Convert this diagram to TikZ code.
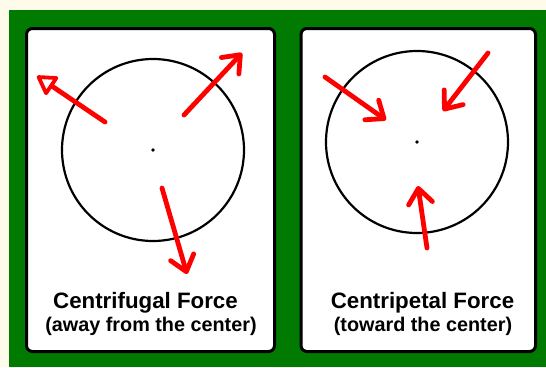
\documentclass[tikz,border=0pt]{standalone}
\usepackage{fontspec}
\setmainfont{Liberation Sans}
\usetikzlibrary{positioning,arrows.meta}
\definecolor{bggreen}{RGB}{0,122,0}
\definecolor{cream}{RGB}{255,251,235}
\definecolor{forcered}{RGB}{255,0,0}

\begin{document}
\begin{tikzpicture}[x=1pt, y=-1pt,
  panel/.style={rectangle, draw=black, line width=3pt, fill=white, rounded corners=6pt,
                inner sep=0pt, minimum height=323pt},
  wheel/.style={circle, draw=black, line width=2.2pt, inner sep=0pt, minimum size=182pt},
  hub/.style={circle, fill=black, inner sep=0pt, minimum size=3.6pt},
  title/.style={anchor=base, font=\bfseries\fontsize{22.3}{26}\selectfont},
  subtitle/.style={anchor=base, font=\bfseries\fontsize{19.8}{23}\selectfont},
  force/.style={draw=forcered, line width=4.8pt, line cap=round,
                -{Straight Barb[round, length=15pt, width=24pt]}},
  openforce/.style={draw=forcered, line width=4.8pt, line cap=round,
                -{Triangle[open, round, length=21pt, width=24pt, line width=3.8pt]}}
]
\useasboundingbox (0,0) rectangle (546,367);
\fill[cream] (0,0) rectangle (546,367);
\fill[bggreen] (8.7,10) rectangle (546,367);

\node[panel, minimum width=248pt] (fugalpanel) at (150.5,190) {};
\node[panel, minimum width=234.5pt] (petalpanel) at (418.25,190) {};

\node[wheel] (fugalwheel) at (153,150) {};
\node[hub] (fugalhub) at (fugalwheel.center) {};
\node[wheel] (petalwheel) at (417,142) {};
\node[hub] (petalhub) at (petalwheel.center) {};

\coordinate (f1a) at (105,122);
\coordinate (f1b) at (37,76);
\coordinate (f2a) at (184,115);
\coordinate (f2b) at (242,53);
\coordinate (f3a) at (162,188);
\coordinate (f3b) at (187,274);
\coordinate (p1a) at (325,77);
\coordinate (p1b) at (386,120);
\coordinate (p2a) at (488,53);
\coordinate (p2b) at (443,111);
\coordinate (p3a) at (427,248);
\coordinate (p3b) at (418,186);

\draw[openforce] (f1a) -- (f1b);
\draw[force] (f2a) -- (f2b);
\draw[force] (f3a) -- (f3b);
\draw[force] (p1a) -- (p1b);
\draw[force] (p2a) -- (p2b);
\draw[force] (p3a) -- (p3b);

\node[title] (fugaltitle) at (145.5,308) {Centrifugal Force};
\node[subtitle] (fugalnote) at (151,331) {(away from the center)};
\node[title] (petaltitle) at (422.5,308) {Centripetal Force};
\node[subtitle] (petalnote) at (423,331) {(toward the center)};
\end{tikzpicture}
\end{document}
